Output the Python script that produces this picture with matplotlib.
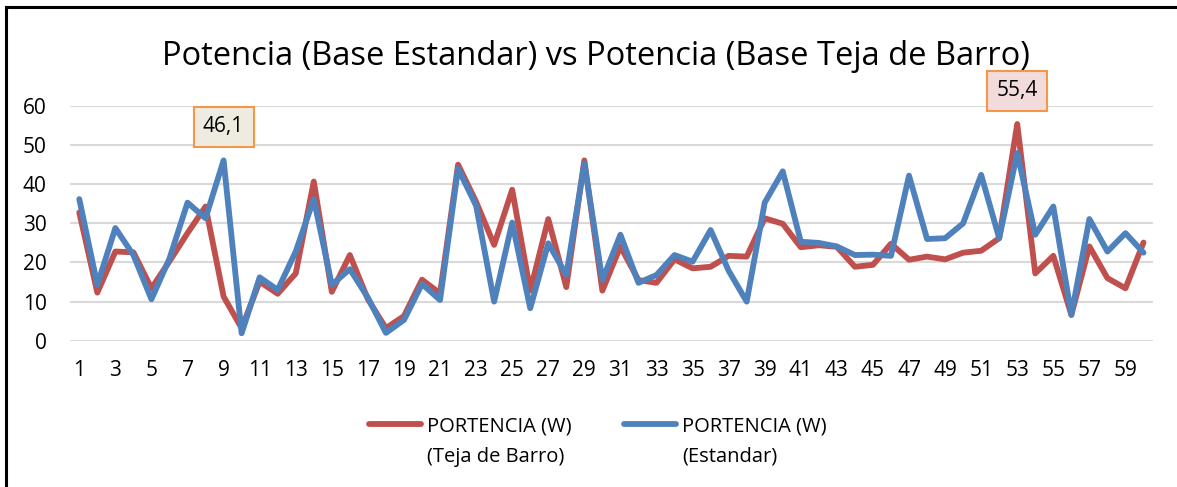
import numpy as np
import matplotlib.pyplot as plt
from matplotlib.lines import Line2D

plt.rcParams['font.family'] = ['Open Sans', 'DejaVu Sans']

# mediciones de potencia (W) por punto
puntos = list(range(1, 61))
teja_barro = [32.8, 12.3, 22.8, 22.6, 13.4, 20.3, 27.5, 34.3, 11.3, 3.2,
              15.1, 12.0, 17.2, 40.7, 12.5, 21.9, 10.6, 3.2, 6.3, 15.6,
              12.1, 45.0, 35.5, 24.5, 38.6, 12.8, 31.1, 13.7, 46.1, 12.8,
              24.1, 15.5, 14.8, 20.8, 18.5, 18.9, 21.7, 21.5, 31.3, 29.9,
              23.9, 24.4, 24.0, 18.9, 19.4, 24.8, 20.7, 21.5, 20.8, 22.5,
              23.0, 26.2, 55.4, 17.2, 21.7, 6.6, 24.1, 16.0, 13.4, 25.1]
estandar = [36.2, 14.3, 28.8, 21.9, 10.6, 21.0, 35.3, 31.3, 46.1, 1.9,
            16.2, 13.0, 22.8, 36.2, 14.3, 18.3, 11.0, 2.0, 5.3, 14.5,
            10.4, 44.0, 34.5, 10.0, 30.2, 8.3, 24.9, 16.8, 45.4, 15.5,
            27.1, 14.8, 16.8, 21.9, 20.2, 28.3, 17.9, 10.0, 35.3, 43.3,
            25.3, 25.0, 24.1, 21.9, 22.0, 21.7, 42.2, 26.0, 26.2, 30.0,
            42.4, 26.2, 48.0, 27.1, 34.3, 6.6, 31.1, 22.8, 27.5, 22.5]
series = ['PORTENCIA (W)', 'PORTENCIA (W)']
subtitulos = ['(Teja de Barro)', '(Estandar)']

fig = plt.figure(figsize=(11.77, 4.87), dpi=100)
ax = fig.add_axes([0.0597, 0.3004, 0.9195, 0.4819])

ax.plot(puntos, teja_barro, color='#C0504D', lw=4.2, solid_joinstyle='round',
        solid_capstyle='round', label=series[0])
ax.plot(puntos, estandar, color='#4F81BD', lw=4.2, solid_joinstyle='round',
        solid_capstyle='round', label=series[1])

ax.set_xlim(0.5, 60.5)
ax.set_ylim(0, 60)
ax.set_yticks(range(0, 61, 10))
ax.set_xticks(range(1, 60, 2))
ax.tick_params(axis='both', length=0, labelsize=15, colors='black')
ax.tick_params(axis='x', pad=14)
ax.tick_params(axis='y', pad=17)
ax.grid(axis='y', color='#D9D9D9', lw=1.5)
ax.set_axisbelow(True)
for s in ax.spines.values():
    s.set_visible(False)

# etiquetas de los picos
i9 = 8
ax.annotate(f'{estandar[i9]:.1f}'.replace('.', ','), (puntos[i9], 54.7),
            ha='center', va='center', fontsize=15, annotation_clip=False,
            bbox=dict(boxstyle='square,pad=0.45', fc='#EEECE1', ec='#F79646', lw=1.5))
i53 = 52
ax.annotate(f'{teja_barro[i53]:.1f}'.replace('.', ','), (puntos[i53], 63.9),
            ha='center', va='center', fontsize=15, annotation_clip=False,
            bbox=dict(boxstyle='square,pad=0.45', fc='#F2DCDB', ec='#F79646', lw=1.5))

fig.text(0.506, 0.885, 'Potencia (Base Estandar) vs Potencia (Base Teja de Barro)',
         ha='center', va='center', fontsize=23.5)

leg = fig.legend(loc='center', bbox_to_anchor=(0.508, 0.125), ncol=2, frameon=False,
                 fontsize=14.5, handlelength=2.6, handletextpad=0.3, columnspacing=2.6)

# segunda línea de cada etiqueta de la leyenda
fig.canvas.draw()
inv = fig.transFigure.inverted()
for t, sub in zip(leg.get_texts(), subtitulos):
    bb = t.get_window_extent()
    x0, y0 = inv.transform((bb.x0, bb.y0))
    fig.text(x0, y0 - 0.022, sub, ha='left', va='top', fontsize=14.5)

# marco del gráfico
fig.add_artist(Line2D([0.005, 0.005], [0, 0.985], color='black', lw=2.2))
fig.add_artist(Line2D([0.005, 1.0], [0.985, 0.985], color='black', lw=2.2))

fig.savefig('out.png', dpi=100)
